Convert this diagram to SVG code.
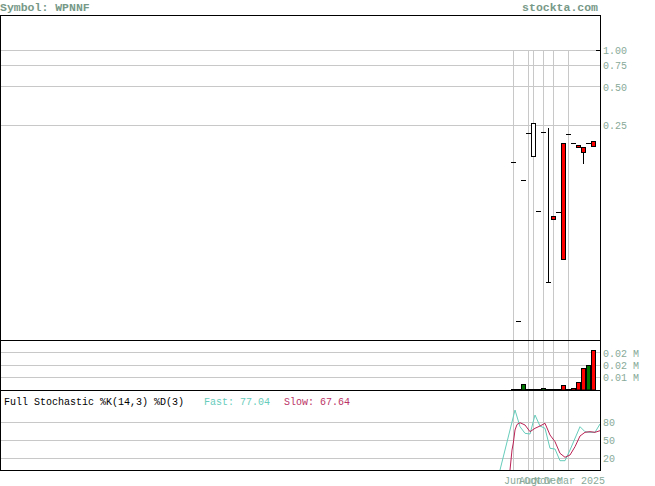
<svg xmlns="http://www.w3.org/2000/svg" width="655" height="486" viewBox="0 0 655 486">
<style>
.grid{stroke:#c8c8c8;stroke-width:1;fill:none}
.frame{stroke:#000;stroke-width:1;fill:none}
.ax{font-family:"Liberation Mono","DejaVu Sans Mono",monospace;font-size:10px;fill:#88aa99}
.ttl{font-family:"Liberation Mono","DejaVu Sans Mono",monospace;font-size:11.5px;font-weight:bold;fill:#779988}
.lbl{font-family:"Liberation Mono","DejaVu Sans Mono",monospace;font-size:10px}
.tick{stroke:#000;stroke-width:1}
.up{fill:#fff;stroke:#000;stroke-width:1}
.dn{fill:#ff0000;stroke:#000;stroke-width:1}
.vg{fill:#007700;stroke:#000;stroke-width:1}
.vr{fill:#ff0000;stroke:#000;stroke-width:1}
</style>
<rect x="0" y="0" width="655" height="486" fill="#fff"/>
<g id="titles">
<text class="ttl" x="0" y="11">Symbol: WPNNF</text>
<text class="ttl" x="598" y="11" text-anchor="end">stockta.com</text>
</g>
<g id="grid">
<line class="grid" x1="0" y1="50.5" x2="600" y2="50.5"/>
<line class="grid" x1="0" y1="65.5" x2="600" y2="65.5"/>
<line class="grid" x1="0" y1="86.5" x2="600" y2="86.5"/>
<line class="grid" x1="0" y1="125.5" x2="600" y2="125.5"/>
<line class="grid" x1="0" y1="352.5" x2="600" y2="352.5"/>
<line class="grid" x1="0" y1="365.5" x2="600" y2="365.5"/>
<line class="grid" x1="0" y1="377.5" x2="600" y2="377.5"/>
<line class="grid" x1="0" y1="422.5" x2="600" y2="422.5"/>
<line class="grid" x1="0" y1="440.5" x2="600" y2="440.5"/>
<line class="grid" x1="0" y1="458.5" x2="600" y2="458.5"/>
<g id="vgrid">
<line class="grid" x1="513.5" y1="50" x2="513.5" y2="470"/>
<line class="grid" x1="528.5" y1="50" x2="528.5" y2="470"/>
<line class="grid" x1="533.5" y1="50" x2="533.5" y2="470"/>
<line class="grid" x1="543.5" y1="50" x2="543.5" y2="470"/>
<line class="grid" x1="553.5" y1="50" x2="553.5" y2="470"/>
<line class="grid" x1="568.5" y1="50" x2="568.5" y2="470"/>
</g>
</g>
<g id="axis-labels">
<text class="ax" x="603" y="54">1.00</text>
<text class="ax" x="603" y="69">0.75</text>
<text class="ax" x="603" y="90.5">0.50</text>
<text class="ax" x="603" y="129">0.25</text>
<text class="ax" x="603" y="356.5">0.02 M</text>
<text class="ax" x="603" y="369">0.02 M</text>
<text class="ax" x="603" y="381">0.01 M</text>
<text class="ax" x="603" y="426">80</text>
<text class="ax" x="603" y="444">50</text>
<text class="ax" x="603" y="462">20</text>
<text class="ax" x="504" y="483.5">Jun</text>
<text class="ax" x="519" y="483.5">Aug</text>
<text class="ax" x="524" y="483.5">Oct</text>
<text class="ax" x="534" y="483.5">Nov</text>
<text class="ax" x="544" y="483.5">Dec</text>
<text class="ax" x="557" y="483.5">Mar 2025</text>
</g>
<g id="price">
<line class="tick" x1="511" y1="162.5" x2="516" y2="162.5"/>
<line class="tick" x1="516" y1="321.5" x2="521" y2="321.5"/>
<line class="tick" x1="521" y1="180.5" x2="526" y2="180.5"/>
<line class="tick" x1="526" y1="133.5" x2="531" y2="133.5"/>
<rect class="up" x="531.5" y="123.5" width="4" height="33"/>
<line class="tick" x1="536" y1="211.5" x2="541" y2="211.5"/>
<line class="tick" x1="541" y1="132.5" x2="546" y2="132.5"/>
<line class="tick" x1="548.5" y1="128" x2="548.5" y2="283"/>
<line class="tick" x1="546" y1="282.5" x2="551" y2="282.5"/>
<rect class="dn" x="551.5" y="216.5" width="4" height="3"/>
<line class="tick" x1="556" y1="212.5" x2="561" y2="212.5"/>
<rect class="dn" x="561.5" y="143.5" width="4" height="116"/>
<line class="tick" x1="566" y1="134.5" x2="571" y2="134.5"/>
<line class="tick" x1="571" y1="143.5" x2="576" y2="143.5"/>
<rect class="dn" x="576.5" y="145.5" width="4" height="2"/>
<line class="tick" x1="583.5" y1="152" x2="583.5" y2="164"/>
<rect class="dn" x="581.5" y="147.5" width="4" height="5"/>
<line class="tick" x1="586" y1="143.5" x2="591" y2="143.5"/>
<rect class="dn" x="591.5" y="141.5" width="4" height="5"/>
</g>
<g id="volume">
<line class="tick" x1="511" y1="389.5" x2="596" y2="389.5"/>
<rect class="vg" x="521.5" y="384.5" width="4" height="5.5"/>
<rect class="vg" x="541.5" y="388.5" width="4" height="1.5"/>
<rect class="vr" x="561.5" y="385.5" width="4" height="4.5"/>
<rect class="vr" x="571.5" y="388.5" width="4" height="1.5"/>
<rect class="vr" x="576.5" y="382.5" width="4" height="7.5"/>
<rect class="vr" x="581.5" y="368.5" width="4" height="21.5"/>
<rect class="vg" x="586.5" y="365.5" width="4" height="24.5"/>
<rect class="vr" x="591.5" y="350.5" width="4" height="39.5"/>
</g>
<g id="stochastic">
<polyline fill="none" stroke="#66ccbb" stroke-width="1" points="500,470 515,410 520,426.7 525,433.3 530,434 535,415 540,426 545,428.3 550,448.3 555,449 560,460.7 565,460.7 570,450 580,426.7 585,431.7 590,432.3 595,432.3 600,424"/>
<polyline fill="none" stroke="#bb2255" stroke-width="1" points="510,470 512,450 513.3,443 515,430 517,424.5 520,422.7 525,425 530,431.7 535,428.3 540,426 545,423.3 550,435 555,441.7 560,453.3 565,457.3 570,455 575,446.7 580,436 585,432.3 590,431.7 595,432.3 600,430.7"/>
<text class="lbl" x="4" y="405" fill="#000">Full Stochastic %K(14,3) %D(3)</text>
<text class="lbl" x="204" y="405" fill="#66ccbb">Fast: 77.04</text>
<text class="lbl" x="284" y="405" fill="#bb3366">Slow: 67.64</text>
</g>
<g id="frames">
<line class="frame" x1="0" y1="15.5" x2="601" y2="15.5"/>
<line class="frame" x1="0.5" y1="15" x2="0.5" y2="471"/>
<line class="frame" x1="600.5" y1="15" x2="600.5" y2="471"/>
<line class="frame" x1="0" y1="340.5" x2="601" y2="340.5"/>
<line class="frame" x1="0" y1="390.5" x2="601" y2="390.5"/>
<line class="frame" x1="0" y1="470.5" x2="601" y2="470.5"/>
<line class="tick" x1="596" y1="50.5" x2="600" y2="50.5"/>
</g>
</svg>
